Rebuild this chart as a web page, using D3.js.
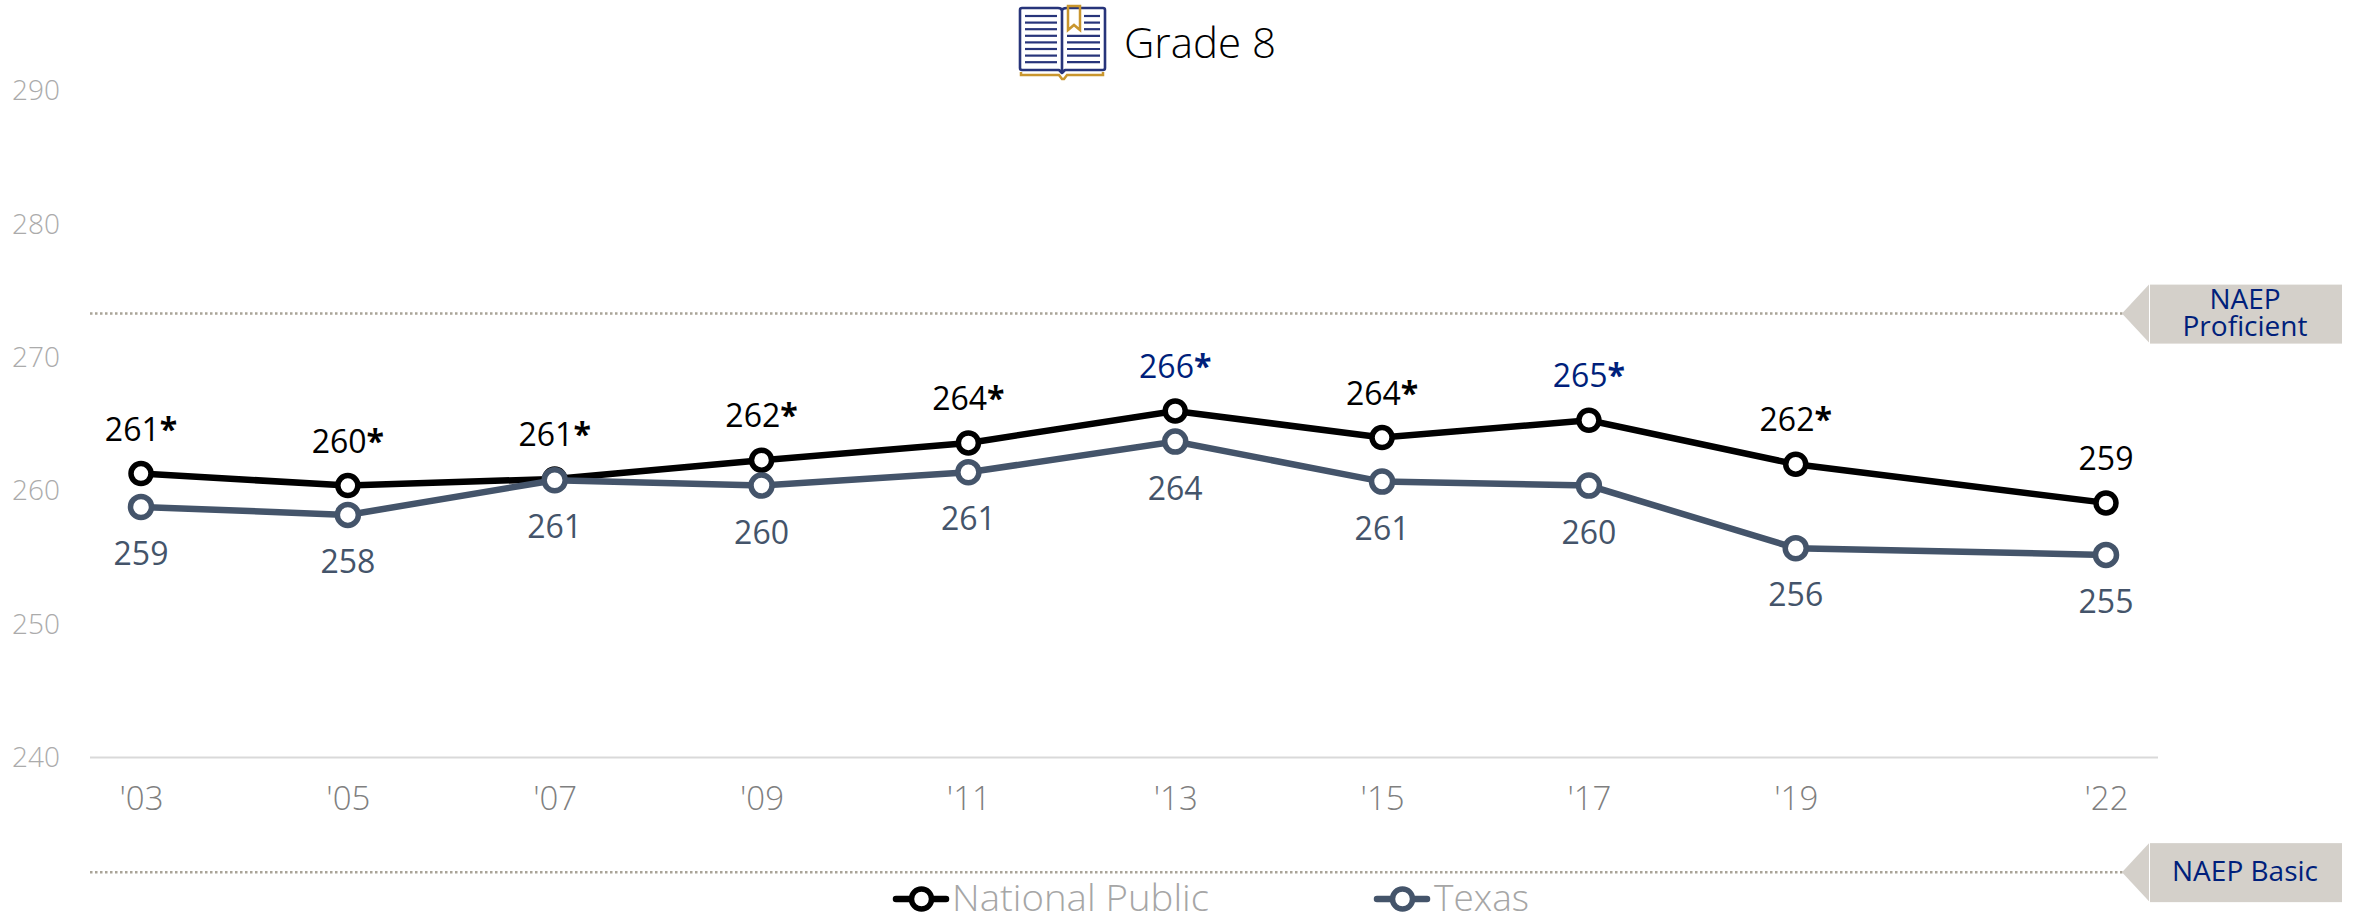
<!DOCTYPE html>
<html><head><meta charset="utf-8">
<script src="https://cdn.jsdelivr.net/npm/d3@7"></script>
<style>html,body{margin:0;padding:0;background:#fff;overflow:hidden}svg{display:block}
text{font-family:"Open Sans",sans-serif}</style></head><body>
<svg id="c" width="2354" height="916"></svg>
<script>
const years=[2003,2005,2007,2009,2011,2013,2015,2017,2019,2022];
const xTickLabels=["'03","'05","'07","'09","'11","'13","'15","'17","'19","'22"];
const yTicks=[240,250,260,270,280,290];
const nationalValues=[261.3,260.4,260.9,262.3,263.6,266.0,264.0,265.3,262.0,259.1];
const texasValues=[258.8,258.2,260.8,260.4,261.4,263.7,260.7,260.4,255.7,255.2];
const nationalLabels=["261","260","261","262","264","266","264","265","262","259"];
const nationalStars=[1,1,1,1,1,1,1,1,1,0];
const nationalHighlighted=[0,0,0,0,0,1,0,1,0,0];
const texasLabels=["259","258","261","260","261","264","261","260","256","255"];
const cutNames=[["NAEP","Proficient"],["NAEP Basic"]];
const cutValues=[273.3,231.4];
const legendNames=["National Public","Texas"];

const NAVY="#001F7B",SLATE="#44546A",BAND="#D4D0CA";
const svg=d3.select("#c");
const x=d3.scaleLinear().domain([2003,2022]).range([141,2106]);
const y=d3.scaleLinear().domain([240,290]).range([757.5,91]);

// y axis
const ya=svg.append("g").attr("transform","translate(60,0)")
  .call(d3.axisLeft(y).tickValues(yTicks).tickSize(0).tickPadding(0));
ya.select(".domain").remove();
ya.selectAll("text").attr("fill","#ABABAB").style("font-family",'"Open Sans"').style("font-size","28px").style("font-weight",300);

// x axis
const xa=svg.append("g").attr("transform","translate(0,757.5)")
  .call(d3.axisBottom(x).tickValues(years).tickSize(0).tickPadding(0).tickFormat((d,i)=>xTickLabels[i]));
xa.select(".domain").attr("stroke","#D9D9D9").attr("stroke-width",2).attr("d","M90,0H2158");
xa.selectAll("text").attr("y",29.5).attr("fill","#7F7F7F").style("font-family",'"Open Sans"').style("font-size","33px").style("font-weight",300);

// cut score markers
cutValues.forEach((v,i)=>{
  const yy=y(v);
  svg.append("line").attr("x1",90).attr("x2",2124).attr("y1",yy).attr("y2",yy)
    .attr("stroke","#A9A498").attr("stroke-width",2.5).attr("stroke-dasharray","2.5 2.5");
  svg.append("path").attr("d",`M2122,${yy}L2149,${yy-29}V${yy+29}Z`).attr("fill",BAND);
  svg.append("rect").attr("x",2150).attr("y",yy-29).attr("width",192).attr("height",59).attr("fill",BAND);
  const n=cutNames[i];
  n.forEach((t,j)=>svg.append("text").attr("x",2245).attr("y",yy+9+(j-(n.length-1)/2)*27)
    .attr("text-anchor","middle").attr("fill",NAVY).style("font-size","28px").text(t));
});

// series
const line=d3.line().x((d,i)=>x(years[i])).y(d=>y(d));
[[nationalValues,"#000",10],[texasValues,SLATE,10.5]].forEach(([vals,c,r])=>{
  svg.append("path").datum(vals).attr("d",line).attr("fill","none").attr("stroke",c).attr("stroke-width",6.5);
  svg.append("g").selectAll("circle").data(vals).join("circle")
    .attr("cx",(d,i)=>x(years[i])).attr("cy",d=>y(d)).attr("r",r)
    .attr("fill","#fff").attr("stroke",c).attr("stroke-width",5.5);
});

// data labels
svg.append("g").selectAll("text").data(nationalValues).join("text")
  .attr("x",(d,i)=>x(years[i])).attr("y",d=>y(d)-33).attr("text-anchor","middle")
  .attr("fill",(d,i)=>nationalHighlighted[i]?NAVY:"#000").style("font-size","32px")
  .each(function(d,i){
    const t=d3.select(this);
    t.append("tspan").text(nationalLabels[i]);
    if(nationalStars[i]) t.append("tspan").style("font-weight",700).text("*");
  });
svg.append("g").selectAll("text").data(texasValues).join("text")
  .attr("x",(d,i)=>x(years[i])).attr("y",d=>y(d)+58).attr("text-anchor","middle")
  .attr("fill",SLATE).style("font-size","32px").text((d,i)=>texasLabels[i]);

// legend
[[893,"#000"],[1374,SLATE]].forEach(([lx,c],i)=>{
  const ly=899;
  svg.append("line").attr("x1",lx+3).attr("x2",lx+53).attr("y1",ly).attr("y2",ly)
    .attr("stroke",c).attr("stroke-width",6.5).attr("stroke-linecap","round");
  svg.append("circle").attr("cx",lx+28.5).attr("cy",ly).attr("r",10).attr("fill","#fff").attr("stroke",c).attr("stroke-width",5.5);
  svg.append("text").attr("x",lx+(i?60:59)).attr("y",911).attr("fill","#A6A6A6")
    .attr("textLength",i?95:257).attr("lengthAdjust","spacingAndGlyphs")
    .style("font-size","37px").style("font-weight",300).text(legendNames[i]);
});

// title + icon
svg.append("text").attr("x",1124).attr("y",58).attr("fill","#000").style("font-size","42px").style("font-weight",300).text("Grade 8");
const ic=svg.append("g").attr("transform","translate(1019,5)").attr("fill","none");
const GOLD="#C9962E",BLUE="#27347A";
ic.append("path").attr("d","M2,67V70H40L43,74H45L48,70H84V67").attr("stroke",GOLD).attr("stroke-width",2.5);
ic.append("path").attr("d","M43,68L40,65H3Q1,65 1,63V5Q1,3 3,3H39Q43,3 43,6V68ZM43,68L46,65H84Q86,65 86,63V5Q86,3 84,3H48Q43,3 43,6")
  .attr("stroke",BLUE).attr("stroke-width",2.6).attr("stroke-linejoin","round");
ic.append("path").attr("d","M49,1H61V25L55,20L49,25Z").attr("stroke",GOLD).attr("stroke-width",2.5);
const rows=d3.range(8);
ic.selectAll(".l").data(rows).join("line").attr("x1",6).attr("x2",38)
  .attr("y1",d=>11+d*6.6).attr("y2",d=>11+d*6.6).attr("stroke",BLUE).attr("stroke-width",2.2);
ic.selectAll(".r").data(rows).join("line").attr("x1",d=>d<3?65:48).attr("x2",81)
  .attr("y1",d=>11+d*6.6).attr("y2",d=>11+d*6.6).attr("stroke",BLUE).attr("stroke-width",2.2);
</script>
</body></html>
